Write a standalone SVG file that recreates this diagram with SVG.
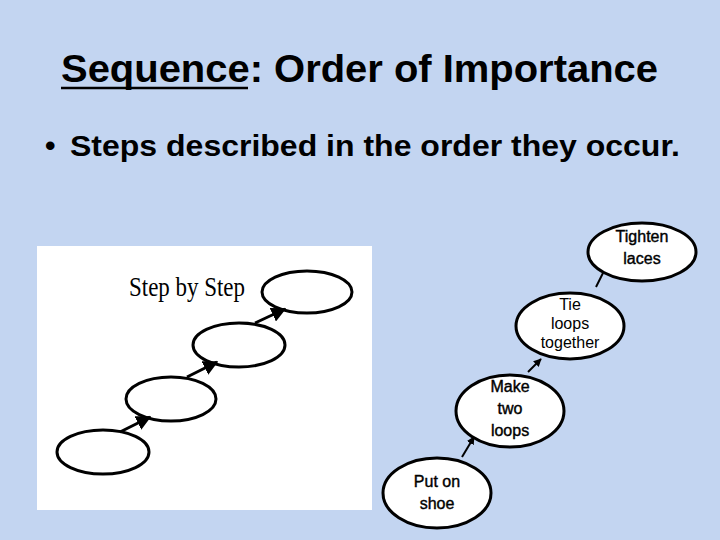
<svg xmlns="http://www.w3.org/2000/svg" width="720" height="540" viewBox="0 0 720 540">
<defs>
<marker id="ah" viewBox="0 0 10 10" refX="9" refY="5" markerWidth="5" markerHeight="5" orient="auto"><path d="M0,0 L10,5 L0,10 z" fill="#000"/></marker>
<marker id="ahb" viewBox="0 0 10 10" refX="9" refY="5" markerWidth="4" markerHeight="4" orient="auto"><path d="M0,0 L10,5 L0,10 z" fill="#000"/></marker>
</defs>
<style>
.t{font-family:"Liberation Sans",Arial,sans-serif;fill:#000}
.node{fill:#fff;stroke:#000;stroke-width:3}
.bw{fill:none;stroke:#000;stroke-width:3}
.lbl{font-family:"Liberation Sans",Arial,sans-serif;font-size:16px;text-anchor:middle;fill:#000}
.hv{stroke:#000;stroke-width:0.4}
.conn{stroke:#000;stroke-width:2;fill:none}
</style>
<rect width="720" height="540" fill="#c3d5f1"/>
<g id="title">
<text class="t" x="61" y="82" font-size="39" font-weight="bold" textLength="597" lengthAdjust="spacingAndGlyphs">Sequence: Order of Importance</text>
<line x1="61" y1="88" x2="248" y2="88" stroke="#000" stroke-width="2.5"/>
</g>
<g id="bullet">
<text class="t" x="45" y="156" font-size="30" font-weight="bold">•</text>
<text class="t" x="70" y="156" font-size="30" font-weight="bold" textLength="610" lengthAdjust="spacingAndGlyphs">Steps described in the order they occur.</text>
</g>
<g id="picture">
<rect x="37" y="246" width="335" height="264" fill="#fff"/>
<text x="129" y="296" font-family="'Liberation Serif','Times New Roman',serif" font-size="28" textLength="116" lengthAdjust="spacingAndGlyphs">Step by Step</text>
<ellipse class="bw" cx="307" cy="292" rx="45" ry="21"/>
<ellipse class="bw" cx="239" cy="345" rx="46" ry="22"/>
<ellipse class="bw" cx="171" cy="399" rx="45" ry="22"/>
<ellipse class="bw" cx="103" cy="452" rx="46" ry="22"/>
<line x1="120" y1="432" x2="150" y2="417" stroke="#000" stroke-width="3" marker-end="url(#ah)"/>
<line x1="187" y1="377" x2="217" y2="362" stroke="#000" stroke-width="3" marker-end="url(#ah)"/>
<line x1="255" y1="323" x2="285" y2="309" stroke="#000" stroke-width="3" marker-end="url(#ah)"/>
</g>
<g id="connectors">
<line class="conn" x1="596" y1="287" x2="603" y2="273"/>
<line class="conn" x1="528" y1="372" x2="541" y2="359" marker-end="url(#ahb)"/>
<line class="conn" x1="462" y1="457" x2="474" y2="437" marker-end="url(#ahb)"/>
</g>
<g id="n-tighten">
<ellipse class="node" cx="642" cy="252" rx="54" ry="29"/>
<text class="lbl hv" x="642" y="242">Tighten</text>
<text class="lbl hv" x="642" y="264">laces</text>
</g>
<g id="n-tie">
<ellipse class="node" cx="570" cy="326" rx="54" ry="33"/>
<text class="lbl" x="570" y="310" font-size="14">Tie</text>
<text class="lbl" x="570" y="329" font-size="14">loops</text>
<text class="lbl" x="570" y="348" font-size="14">together</text>
</g>
<g id="n-make">
<ellipse class="node" cx="510" cy="411" rx="54" ry="36"/>
<text class="lbl hv" x="510" y="392">Make</text>
<text class="lbl hv" x="510" y="414">two</text>
<text class="lbl hv" x="510" y="436">loops</text>
</g>
<g id="n-put">
<ellipse class="node" cx="437" cy="493" rx="54" ry="35"/>
<text class="lbl hv" x="437" y="487">Put on</text>
<text class="lbl hv" x="437" y="509">shoe</text>
</g>
</svg>
